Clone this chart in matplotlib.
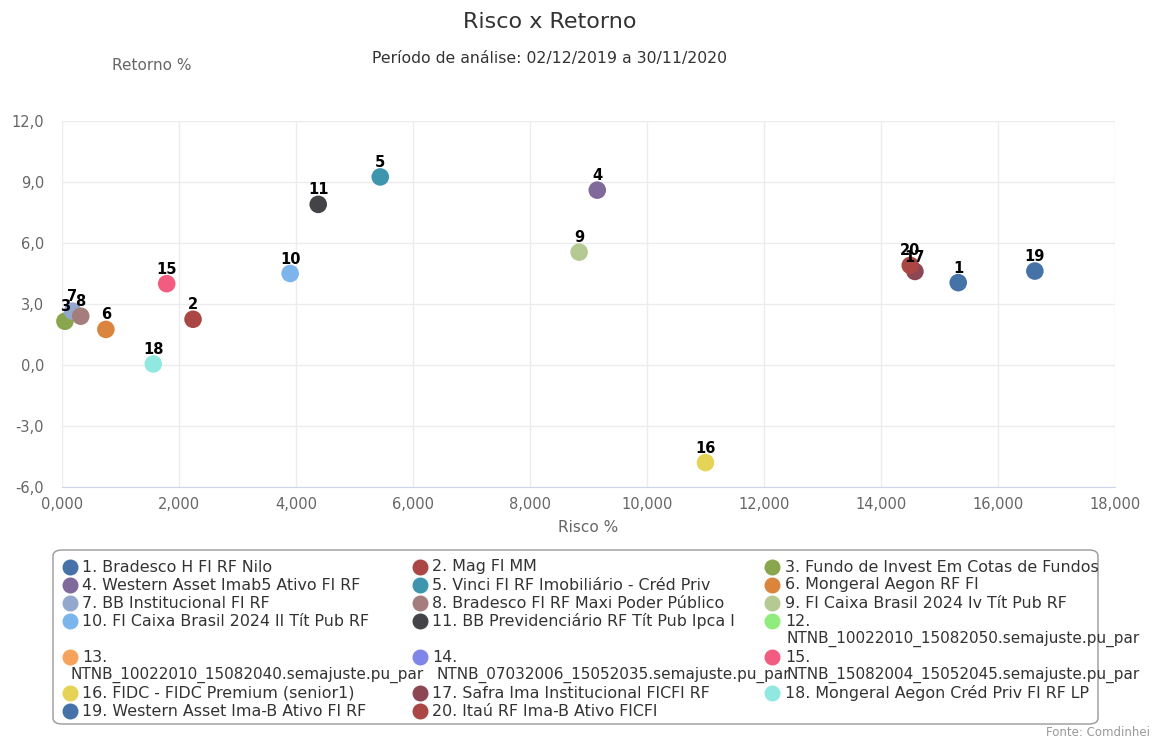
import matplotlib
matplotlib.use("Agg")
import matplotlib.pyplot as plt
from matplotlib.patches import FancyBboxPatch
from matplotlib.ticker import FuncFormatter

plt.rcParams['font.family'] = ['DejaVu Sans']

# dados (risco %, retorno %); None = sem ponto no grafico
nomes = [
    "Bradesco H FI RF Nilo",
    "Mag FI MM",
    "Fundo de Invest Em Cotas de Fundos",
    "Western Asset Imab5 Ativo FI RF",
    "Vinci FI RF Imobiliário - Créd Priv",
    "Mongeral Aegon RF FI",
    "BB Institucional FI RF",
    "Bradesco FI RF Maxi Poder Público",
    "FI Caixa Brasil 2024 Iv Tít Pub RF",
    "FI Caixa Brasil 2024 II Tít Pub RF",
    "BB Previdenciário RF Tít Pub Ipca I",
    "NTNB_10022010_15082050.semajuste.pu_par",
    "NTNB_10022010_15082040.semajuste.pu_par",
    "NTNB_07032006_15052035.semajuste.pu_par",
    "NTNB_15082004_15052045.semajuste.pu_par",
    "FIDC - FIDC Premium (senior1)",
    "Safra Ima Institucional FICFI RF",
    "Mongeral Aegon Créd Priv FI RF LP",
    "Western Asset Ima-B Ativo FI RF",
    "Itaú RF Ima-B Ativo FICFI",
]
risco = [15.32, 2.24, 0.05, 9.15, 5.44, 0.75, 0.18, 0.32, 8.84, 3.90,
         4.38, None, None, None, 1.79, 11.00, 14.58, 1.56, 16.63, 14.50]
retorno = [4.05, 2.25, 2.15, 8.6, 9.25, 1.75, 2.65, 2.4, 5.55, 4.5,
           7.9, None, None, None, 4.0, -4.8, 4.6, 0.05, 4.62, 4.9]
cores = ["#4572A7", "#AA4643", "#89A54E", "#80699B", "#3D96AE", "#DB843D",
         "#92A8CD", "#A47D7C", "#B5CA92", "#7cb5ec", "#434348", "#90ed7d",
         "#f7a35c", "#8085e9", "#f15c80", "#e4d354", "#8d4653", "#91e8e1",
         "#4572A7", "#AA4643"]

W, H = 1152, 738
fig = plt.figure(figsize=(W / 100, H / 100), dpi=100)
ax = fig.add_axes([62 / W, 1 - 487 / H, (1115 - 62) / W, (487 - 121) / H])


def fx(px):
    return px / W


def fy(py):
    return 1 - py / H


for i in range(len(nomes)):
    if risco[i] is None:
        continue
    ax.scatter(risco[i], retorno[i], s=160, color=cores[i], edgecolors='none',
               zorder=3 + i, clip_on=False)
for i in range(len(nomes)):
    if risco[i] is None:
        continue
    ax.annotate(str(i + 1), (risco[i], retorno[i]), xytext=(0, 5),
                textcoords='offset points', ha='center', va='bottom',
                fontsize=10.5, fontweight='bold', color='black', zorder=40)

ax.set_xlim(0, 18)
ax.set_ylim(-6, 12)
ax.set_xticks(range(0, 19, 2))
ax.set_yticks(range(-6, 13, 3))
ax.xaxis.set_major_formatter(FuncFormatter(lambda v, p: f"{v:.3f}".replace('.', ',')))
ax.yaxis.set_major_formatter(FuncFormatter(lambda v, p: f"{v:.1f}".replace('.', ',')))
ax.grid(True, color='#ececf0', linewidth=1)
ax.set_axisbelow(True)
for s in ['top', 'right', 'left']:
    ax.spines[s].set_visible(False)
ax.spines['bottom'].set_color('#ccd6eb')
ax.tick_params(axis='both', length=0, labelsize=10.5, colors='#666666', pad=7)
ax.tick_params(axis='y', pad=13)

fig.text(fx(550), fy(22), "Risco x Retorno", ha='center', va='center', fontsize=16, color='#333333')
fig.text(fx(550), fy(58), "Período de análise: 02/12/2019 a 30/11/2020", ha='center', va='center',
         fontsize=11.3, color='#333333')
fig.text(fx(152), fy(65), "Retorno %", ha='center', va='center', fontsize=11, color='#666666')
fig.text(fx(588), fy(527), "Risco %", ha='center', va='center', fontsize=11, color='#666666')
fig.text(fx(1150), fy(733), "Fonte: Comdinhei", ha='right', va='center', fontsize=8.5, color='#999999')

# legenda em 3 colunas
box = FancyBboxPatch((fx(53), fy(724)), fx(1098 - 53), (724 - 550) / H,
                     boxstyle="round,pad=0,rounding_size=0.008", transform=fig.transFigure,
                     facecolor='white', edgecolor='#999999', linewidth=1)
fig.patches.append(box)
col_mark = [70, 420, 772]
col_text = [82, 432, 785]
col_wrap = [70, 437, 786]
linha = 18
y = 567
for r in range(0, len(nomes), 3):
    n_lin = 1
    for c in range(3):
        i = r + c
        if i >= len(nomes):
            break
        fig.lines.append(plt.Line2D([fx(col_mark[c])], [fy(y)], marker='o', markersize=10.5,
                                    color=cores[i], linestyle='none', transform=fig.transFigure))
        if nomes[i].startswith("NTNB"):
            fig.text(fx(col_text[c]), fy(y), f"{i + 1}.", va='center', fontsize=11.4, color='#333333')
            fig.text(fx(col_wrap[c]), fy(y + linha), nomes[i], va='center', fontsize=11,
                     color='#333333')
            n_lin = 2
        else:
            fig.text(fx(col_text[c]), fy(y), f"{i + 1}. {nomes[i]}", va='center', fontsize=11.4,
                     color='#333333')
    y += linha * n_lin

fig.savefig("out.png", dpi=100)
